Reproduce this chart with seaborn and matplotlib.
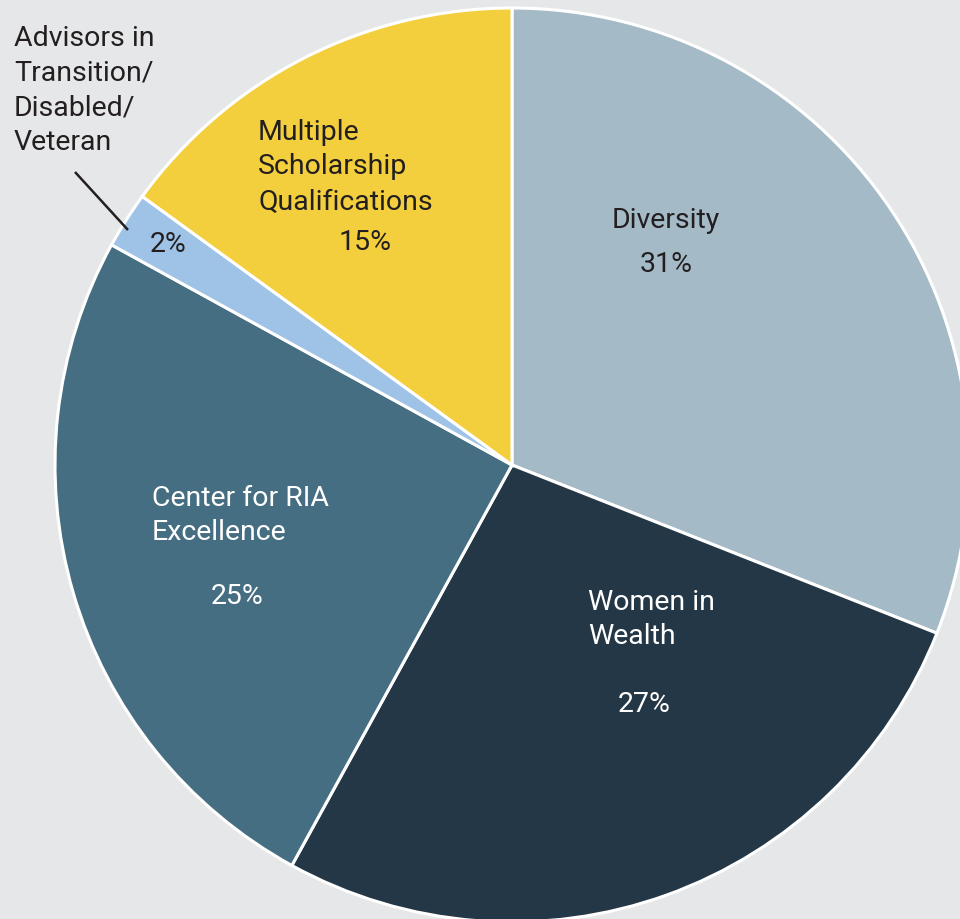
import matplotlib
matplotlib.use("Agg")
import matplotlib.pyplot as plt
import seaborn as sns

# 数据
categories = ["Diversity", "Women in Wealth", "Center for RIA Excellence",
              "Advisors in Transition/Disabled/Veteran", "Multiple Scholarship Qualifications"]
shares = [31, 27, 25, 2, 15]
label_lines = ["Diversity", "Women in\nWealth", "Center for RIA\nExcellence",
               "Advisors in\nTransition/\nDisabled/\nVeteran",
               "Multiple\nScholarship\nQualifications"]
colors = ["#a5bac7", "#243746", "#466e82", "#9fc3e6", "#f3cf3d"]
text_colors = ["#231f20", "white", "white", "#231f20", "#231f20"]

bg = "#e6e7e8"
sns.set_theme(style="white", rc={"axes.facecolor": bg, "figure.facecolor": bg})
plt.rcParams['font.family'] = ['Roboto', 'DejaVu Sans']

fig = plt.figure(figsize=(9.6, 9.19), dpi=100)
ax = fig.add_axes([0, 0, 1, 1])

# 像素坐标, y 轴向下
cx, cy, r = 512, 465, 457
ax.pie(shares, colors=sns.color_palette(colors), startangle=-90, counterclock=True,
       center=(cx, cy), radius=r,
       wedgeprops={"edgecolor": "white", "linewidth": 2.2})
ax.set_xlim(0, 960)
ax.set_ylim(919, 0)
ax.set_aspect("auto")
ax.axis("off")

# 标签位置 (左边缘, 首行中心) 和 百分比位置 (中心)
name_pos = [(612, 221), (588, 602), (152, 498), (14, 38), (258, 132)]
pct_pos = [(666, 265), (644, 704), (237, 597), (168, 245), (365, 243)]
fs = 20.5
for name, v, (nx, ny), (px, py), tc in zip(label_lines, shares, name_pos, pct_pos, text_colors):
    for k, line in enumerate(name.split("\n")):
        ax.text(nx, ny + 35 * k, line, ha="left", va="center", fontsize=fs, color=tc)
    ax.text(px, py, f"{v}%", ha="center", va="center", fontsize=fs, color=tc)

# 指引线
ax.plot([75, 128], [172, 230], color="#231f20", lw=1.8, solid_capstyle="butt")

fig.savefig("out.png", dpi=100, facecolor=bg)
